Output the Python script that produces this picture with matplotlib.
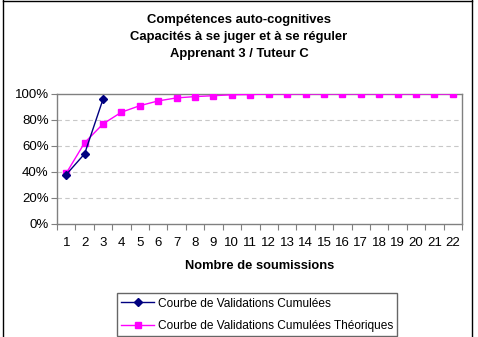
import matplotlib
matplotlib.use("Agg")
import matplotlib.pyplot as plt
from matplotlib.lines import Line2D
from matplotlib.ticker import FixedLocator, PercentFormatter

plt.rcParams["font.family"] = ["Liberation Sans", "DejaVu Sans"]

# ---------------------------------------------------------------------------
# Data
# ---------------------------------------------------------------------------
TITLE = "Compétences auto-cognitives\nCapacités à se juger et à se réguler\nApprenant 3 / Tuteur C"
submissions = list(range(1, 23))
validations = [38, 54, 96]
theoriques = [39, 62.5, 77, 86, 91, 94.7, 97, 98, 98.7, 99.4, 99.6,
              100, 100, 100, 100, 100, 100, 100, 100, 100, 100, 100]
y_ticks = [0, 20, 40, 60, 80, 100]

fig = plt.figure(figsize=(4.78, 3.37), dpi=100)
ax = fig.add_axes([57 / 478, 1 - 224 / 337, 405 / 478, 130 / 337])

ax.plot(submissions, theoriques, color="#FF00FF", marker="s", markersize=5,
        linewidth=1, label="Courbe de Validations Cumulées Théoriques", zorder=3)
ax.plot(submissions[:len(validations)], validations, color="#000080", marker="D",
        markersize=4.5, linewidth=1, label="Courbe de Validations Cumulées", zorder=4)

ax.set_xlim(0.5, 22.5)
ax.set_ylim(0, 100)
ax.set_yticks(y_ticks)
ax.yaxis.set_major_formatter(PercentFormatter(decimals=0))
ax.xaxis.set_major_locator(FixedLocator([i + 0.5 for i in range(0, 23)]))
ax.xaxis.set_major_formatter(plt.NullFormatter())
ax.xaxis.set_minor_locator(FixedLocator(submissions))
ax.set_xticklabels([str(s) for s in submissions], minor=True)
ax.tick_params(axis="x", which="major", length=4, color="#808080", direction="out")
ax.tick_params(axis="x", which="minor", length=0, labelsize=9.5, pad=9)
ax.tick_params(axis="y", length=4, color="#808080", labelsize=9.5, pad=2)

for y in y_ticks[1:-1]:
    ax.axhline(y, color="#C8C8C8", linewidth=0.8, linestyle=(0, (4, 3)), zorder=1)
for spine in ax.spines.values():
    spine.set_color("#808080")
    spine.set_linewidth(1)

ax.set_xlabel("Nombre de soumissions", fontsize=9.3, fontweight="bold", labelpad=8)
fig.text(0.5, 1 - 37 / 337, TITLE, ha="center", va="center", fontsize=9.4,
         fontweight="bold", linespacing=1.55)

handles = [
    Line2D([], [], color="#000080", marker="D", markersize=4, linewidth=1),
    Line2D([], [], color="#FF00FF", marker="s", markersize=4.5, linewidth=1),
]
leg = fig.legend(handles, ["Courbe de Validations Cumulées",
                           "Courbe de Validations Cumulées Théoriques"],
                 loc="lower center", bbox_to_anchor=(257 / 478, 1 / 337),
                 fontsize=8.6, frameon=True, fancybox=False, handlelength=2.8,
                 handletextpad=0.3, borderpad=0.35, labelspacing=0.85,
                 borderaxespad=0)
leg.get_frame().set_edgecolor("#404040")
leg.get_frame().set_linewidth(1)

# outer chart border
for xs, ys in [([2.5, 2.5], [0, 337]), ([471.5, 471.5], [0, 337]), ([2.5, 471.5], [1, 1])]:
    fig.add_artist(Line2D([x / 478 for x in xs], [1 - y / 337 for y in ys],
                          color="black", linewidth=1))

fig.savefig("out.png", dpi=100)
